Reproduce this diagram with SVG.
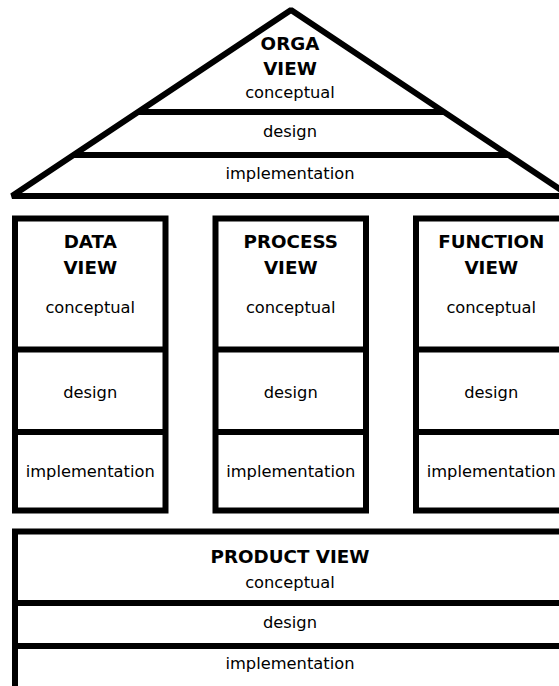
<svg xmlns="http://www.w3.org/2000/svg" width="559" height="686" viewBox="0 0 559 686">
<style>
.s{fill:none;stroke:#000;stroke-width:6}
.t{font-family:"DejaVu Sans",sans-serif;font-size:16.3px;fill:#000;text-anchor:middle}
.b{font-family:"DejaVu Sans",sans-serif;font-size:18.3px;font-weight:bold;fill:#000;text-anchor:middle}
</style>
<rect width="559" height="686" fill="#fff"/>
<g id="orga-view">
<path class="s" d="M12,196 L291,10 L570,196 Z" stroke-linejoin="bevel"/>
<line class="s" x1="138" y1="112" x2="444" y2="112"/>
<line class="s" x1="73.5" y1="155" x2="508.5" y2="155"/>
<text class="b" x="290" y="49.5">ORGA</text>
<text class="b" x="290" y="74.5">VIEW</text>
<text class="t" x="290" y="98">conceptual</text>
<text class="t" x="290" y="137">design</text>
<text class="t" x="290" y="179">implementation</text>
</g>
<g id="data-view">
<rect class="s" x="15" y="218.5" width="150.5" height="292"/>
<line class="s" x1="15" y1="349.5" x2="165.5" y2="349.5"/>
<line class="s" x1="15" y1="432" x2="165.5" y2="432"/>
<text class="b" x="90.25" y="248">DATA</text>
<text class="b" x="90.25" y="274">VIEW</text>
<text class="t" x="90.25" y="313">conceptual</text>
<text class="t" x="90.25" y="398">design</text>
<text class="t" x="90.25" y="477">implementation</text>
</g>
<g id="process-view">
<rect class="s" x="215.5" y="218.5" width="150.5" height="292"/>
<line class="s" x1="215.5" y1="349.5" x2="366" y2="349.5"/>
<line class="s" x1="215.5" y1="432" x2="366" y2="432"/>
<text class="b" x="290.75" y="248">PROCESS</text>
<text class="b" x="290.75" y="274">VIEW</text>
<text class="t" x="290.75" y="313">conceptual</text>
<text class="t" x="290.75" y="398">design</text>
<text class="t" x="290.75" y="477">implementation</text>
</g>
<g id="function-view">
<rect class="s" x="416" y="218.5" width="150.5" height="292"/>
<line class="s" x1="416" y1="349.5" x2="566.5" y2="349.5"/>
<line class="s" x1="416" y1="432" x2="566.5" y2="432"/>
<text class="b" x="491.25" y="248">FUNCTION</text>
<text class="b" x="491.25" y="274">VIEW</text>
<text class="t" x="491.25" y="313">conceptual</text>
<text class="t" x="491.25" y="398">design</text>
<text class="t" x="491.25" y="477">implementation</text>
</g>
<g id="product-view">
<rect class="s" x="15" y="531.5" width="560" height="170"/>
<line class="s" x1="15" y1="603" x2="575" y2="603"/>
<line class="s" x1="15" y1="646" x2="575" y2="646"/>
<text class="b" x="290" y="563">PRODUCT VIEW</text>
<text class="t" x="290" y="588">conceptual</text>
<text class="t" x="290" y="628">design</text>
<text class="t" x="290" y="669">implementation</text>
</g>
<g id="connectors"></g>
</svg>
